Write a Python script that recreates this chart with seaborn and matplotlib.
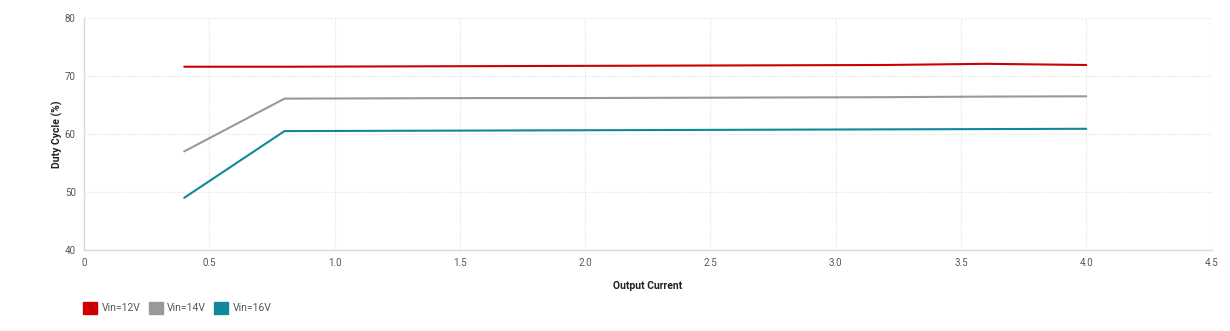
import matplotlib
matplotlib.use("Agg")
import matplotlib.pyplot as plt
import seaborn as sns
import pandas as pd
from matplotlib.patches import Patch

current = [0.4, 0.8, 1.2, 1.6, 2.0, 2.4, 2.8, 3.2, 3.6, 4.0]
vin12 = [71.6, 71.6, 71.65, 71.7, 71.75, 71.8, 71.85, 71.9, 72.1, 71.9]
vin14 = [57.0, 66.1, 66.15, 66.2, 66.2, 66.25, 66.3, 66.35, 66.45, 66.5]
vin16 = [49.0, 60.5, 60.55, 60.6, 60.65, 60.7, 60.75, 60.8, 60.85, 60.9]
series = ["Vin=12V", "Vin=14V", "Vin=16V"]
colors = ["#CC0000", "#999999", "#118899"]

df = pd.concat([
    pd.DataFrame({"x": current, "y": v, "s": name})
    for v, name in zip([vin12, vin14, vin16], series)
])

sns.set_theme(style="white")
plt.rcParams['font.family'] = ['Roboto', 'DejaVu Sans']

fig = plt.figure(figsize=(12.3, 3.31), dpi=100)
ax = fig.add_axes([0.0683, 0.2447, 0.9167, 0.7009])
sns.lineplot(data=df, x="x", y="y", hue="s", palette=dict(zip(series, colors)),
             ax=ax, linewidth=1.5, legend=False)

ax.set_xlim(0, 4.5)
ax.set_ylim(40, 80)
ax.set_xticks([0, 0.5, 1.0, 1.5, 2.0, 2.5, 3.0, 3.5, 4.0, 4.5])
ax.set_xticklabels(["0", "0.5", "1.0", "1.5", "2.0", "2.5", "3.0", "3.5", "4.0", "4.5"])
ax.set_yticks([40, 50, 60, 70, 80])
ax.tick_params(axis="both", labelsize=7, colors="#555555", length=0, pad=6)
ax.grid(True, color="#ececec", linestyle=(0, (2, 1)), linewidth=0.8)
for s in ["top", "right"]:
    ax.spines[s].set_visible(False)
for s in ["left", "bottom"]:
    ax.spines[s].set_color("#d9d9d9")
    ax.spines[s].set_linewidth(1)
ax.set_xlabel("Output Current", fontsize=7.5, fontweight="bold", color="#222222", labelpad=9)
ax.set_ylabel("Duty Cycle (%)", fontsize=7.5, fontweight="bold", color="#222222", labelpad=1)

handles = [Patch(facecolor=c, edgecolor=c, label=n) for c, n in zip(colors, series)]
fig.legend(handles=handles, loc="center left", bbox_to_anchor=(0.060, 0.07), ncol=3,
           frameon=False, fontsize=7.5, handlelength=1.35, handleheight=1.35,
           handletextpad=0.4, columnspacing=0.8, labelcolor="#555555")

fig.savefig("out.png", dpi=100)
